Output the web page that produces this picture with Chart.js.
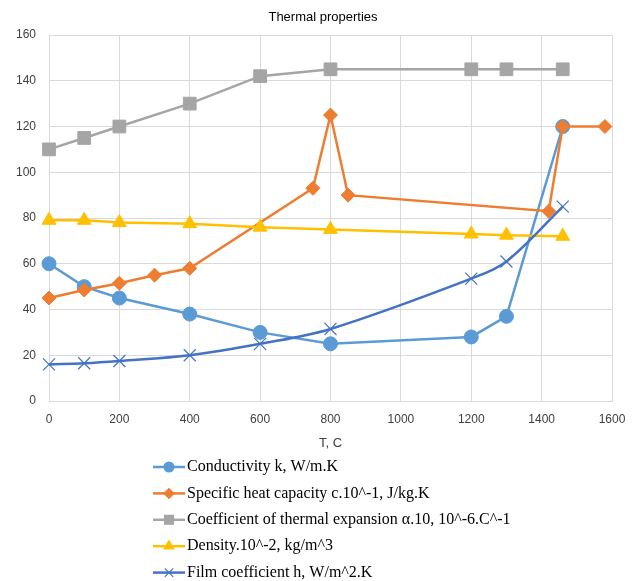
<!DOCTYPE html>
<html>
<head>
<meta charset="utf-8">
<script src="https://cdn.jsdelivr.net/npm/chart.js@4/dist/chart.umd.min.js"></script>
<style>
html,body{margin:0;padding:0;background:#fff;}
#wrap{position:relative;width:640px;height:581px;}
</style>
</head>
<body>
<div id="wrap"><canvas id="c" width="640" height="581"></canvas></div>
<script>
const chartTitle = "Thermal properties";
const xAxisTitle = "T, C";
const seriesNames = [
  "Conductivity k, W/m.K",
  "Specific heat capacity c.10^-1, J/kg.K",
  "Coefficient of thermal expansion \u03b1.10, 10^-6.C^-1",
  "Density.10^-2, kg/m^3",
  "Film coefficient h, W/m^2.K"
];
const condT = [0, 100, 200, 400, 600, 800, 1200, 1300, 1460];
const condV = [60, 50, 45, 38, 30, 25, 28, 37, 120];
const heatT = [0, 100, 200, 300, 400, 750, 800, 850, 1420, 1460, 1580];
const heatV = [45, 48.5, 51.5, 55, 58, 93, 125, 90, 83, 120, 120];
const expT = [0, 100, 200, 400, 600, 800, 1200, 1300, 1460];
const expV = [110, 115, 120, 130, 142, 145, 145, 145, 145];
const densT = [0, 100, 200, 400, 600, 800, 1200, 1300, 1460];
const densV = [79, 79, 78, 77.5, 76, 75, 73, 72.5, 72];
const filmT = [0, 100, 200, 400, 600, 800, 1200, 1300, 1460];
const filmV = [16, 16.5, 17.5, 20, 25, 31.5, 53.5, 61, 85];
const xTicks = [0, 200, 400, 600, 800, 1000, 1200, 1400, 1600];
const yTicks = [0, 20, 40, 60, 80, 100, 120, 140, 160];

const colors = ["#5B9BD5", "#ED7D31", "#A5A5A5", "#FFC000", "#4472C4"];
const styles = ["circle", "rectRot", "rect", "triangle", "crossRot"];
const radii = [7, 7, 9, 8, 8.5];
const tensions = [0, 0, 0, 0, 0.35];
const allT = [condT, heatT, expT, densT, filmT];
const allV = [condV, heatV, expV, densV, filmV];

const datasets = seriesNames.map((name, i) => ({
  label: name,
  data: allT[i].map((t, j) => ({x: t, y: allV[i][j]})),
  borderColor: colors[i],
  backgroundColor: colors[i],
  pointBackgroundColor: colors[i],
  pointBorderColor: colors[i],
  pointStyle: styles[i],
  pointRadius: radii[i],
  pointBorderWidth: i === 4 ? 1.2 : 1,
  borderWidth: 2.5,
  tension: tensions[i],
  order: 4 - i,
  clip: false,
  fill: false
}));

const titlePlugin = {
  id: 'customTitle',
  afterDraw(chart) {
    const ctx = chart.ctx;
    ctx.save();
    ctx.font = '13px "Liberation Sans", Arial, sans-serif';
    ctx.fillStyle = '#000';
    ctx.textAlign = 'center';
    ctx.textBaseline = 'middle';
    ctx.fillText(chartTitle, 323, 17);
    ctx.restore();
  }
};

const legendPlugin = {
  id: 'customLegend',
  afterDraw(chart) {
    const ctx = chart.ctx;
    ctx.save();
    const x0 = 153, x1 = 185, tx = 187;
    seriesNames.forEach((name, i) => {
      const y = 467 + i * 26.4;
      ctx.strokeStyle = colors[i];
      ctx.lineWidth = 2.5;
      ctx.beginPath();
      ctx.moveTo(x0, y);
      ctx.lineTo(x1, y);
      ctx.stroke();
      ctx.fillStyle = colors[i];
      ctx.strokeStyle = colors[i];
      ctx.lineWidth = 1.2;
      Chart.helpers.drawPoint(ctx, {pointStyle: styles[i], radius: radii[i] * 0.7, rotation: 0, borderWidth: 1.2}, (x0 + x1) / 2, y);
      ctx.fillStyle = '#000';
      ctx.font = '16px "Liberation Serif", "Times New Roman", serif';
      ctx.textAlign = 'left';
      ctx.textBaseline = 'middle';
      ctx.fillText(name, tx, y);
    });
    ctx.restore();
  }
};

new Chart(document.getElementById('c'), {
  type: 'line',
  data: { datasets },
  plugins: [titlePlugin, legendPlugin],
  options: {
    responsive: false,
    animation: false,
    devicePixelRatio: 1,
    layout: { padding: { left: 0, right: 28, top: 35, bottom: 130 } },
    plugins: { legend: { display: false }, title: { display: false }, tooltip: { enabled: false } },
    scales: {
      x: {
        type: 'linear',
        min: 0, max: 1600,
        afterBuildTicks(s) { s.ticks = xTicks.map(v => ({value: v})); },
        afterFit(s) { s.height = 50; },
        grid: { color: '#D9D9D9', drawTicks: false, lineWidth: 1 },
        border: { color: '#D9D9D9' },
        ticks: { padding: 11, color: '#404040', font: { family: '"Liberation Sans", Arial, sans-serif', size: 12 }, callback: v => String(v) },
        title: { display: true, text: xAxisTitle, color: '#404040', padding: {top: 4, bottom: 0}, font: { family: '"Liberation Sans", Arial, sans-serif', size: 13 } }
      },
      y: {
        type: 'linear',
        min: 0, max: 160,
        afterBuildTicks(s) { s.ticks = yTicks.map(v => ({value: v})); },
        afterFit(s) { s.width = 49; },
        grid: { color: '#D9D9D9', drawTicks: false, lineWidth: 1 },
        border: { color: '#D9D9D9' },
        ticks: { padding: 13, color: '#404040', font: { family: '"Liberation Sans", Arial, sans-serif', size: 12 }, callback: v => String(v) }
      }
    }
  }
});
</script>
</body>
</html>
